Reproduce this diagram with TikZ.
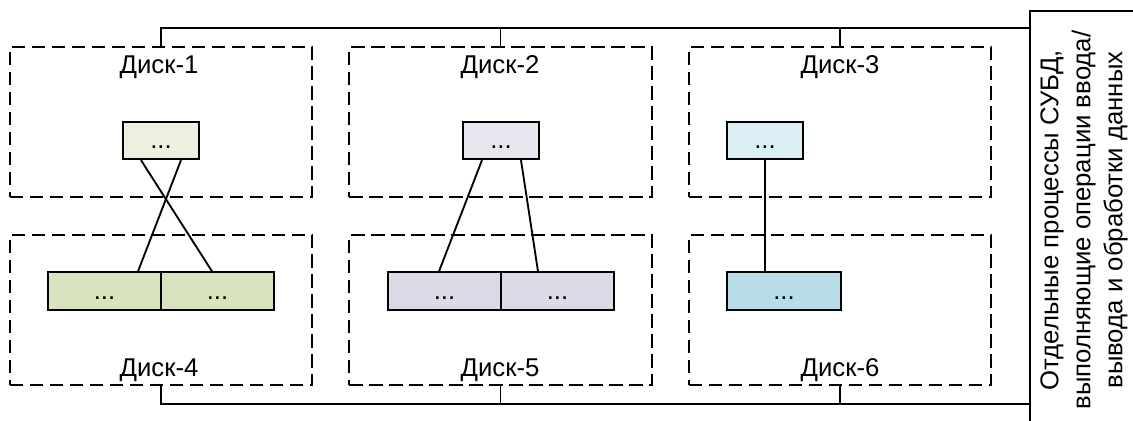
\documentclass[tikz,border=0pt]{standalone}
\usepackage{fontspec}
\setmainfont{Liberation Sans}
\usetikzlibrary{calc}
\definecolor{gA}{HTML}{EBF1DE}
\definecolor{gB}{HTML}{D7E4BD}
\definecolor{pA}{HTML}{E8E6EF}
\definecolor{pB}{HTML}{DDD9E7}
\definecolor{aA}{HTML}{DBEEF3}
\definecolor{aB}{HTML}{B7DEE8}
\begin{document}
\begin{tikzpicture}[x=0.75pt,y=-0.75pt,
  every node/.style={font=\fontsize{19.3pt}{24pt}\selectfont, inner sep=0pt},
  disk/.style={draw, line width=1.45pt, dash pattern=on 10pt off 5pt, minimum width=227pt, minimum height=112.5pt},
  blk/.style={draw, line width=1.5pt, minimum height=28pt, text height=12pt, text depth=0pt},
  conn/.style={line width=1.4pt},
  lbl/.style={anchor=base}]
\useasboundingbox (0,0) rectangle (1133,421);
\clip (0,0) rectangle (1133,421);
% disks
\node[disk] (d1) at (161,122) {};
\node[disk] (d2) at (500.5,122) {};
\node[disk] (d3) at (840,122) {};
\node[disk] (d4) at (161,310) {};
\node[disk] (d5) at (500.5,310) {};
\node[disk] (d6) at (840,310) {};
% labels
\node[lbl] (l1) at (159,73) {Диск-1};
\node[lbl] (l2) at (500,73) {Диск-2};
\node[lbl] (l3) at (840,73) {Диск-3};
\node[lbl] (l4) at (159,376) {Диск-4};
\node[lbl] (l5) at (500,376) {Диск-5};
\node[lbl] (l6) at (840,376) {Диск-6};
% blocks
\node[blk, fill=gA, minimum width=57pt] (b1) at (161,140.5) {...};
\node[blk, fill=pA, minimum width=57pt] (b2) at (501,140.5) {...};
\node[blk, fill=aA, minimum width=57pt] (b3) at (765,140.5) {...};
\node[blk, fill=gB, minimum width=85pt] (b4a) at (104.5,291) {...};
\node[blk, fill=gB, minimum width=85pt] (b4b) at (217.5,291) {...};
\node[blk, fill=pB, minimum width=85pt] (b5a) at (444.5,291) {...};
\node[blk, fill=pB, minimum width=85pt] (b5b) at (557.5,291) {...};
\node[blk, fill=aB, minimum width=85.5pt] (b6) at (784,291) {...};
% connectors
\draw[conn] ($(b1.south)+(-20,0)$) -- ($(b4b.north)+(-5.5,0)$);
\draw[conn] ($(b1.south)+(20,0)$) -- ($(b4a.north)+(33.5,0)$);
\draw[conn] ($(b2.south)+(-19,0)$) -- ($(b5a.north)+(-5.5,0)$);
\draw[conn] ($(b2.south)+(20,0)$) -- ($(b5b.north)+(-19.5,0)$);
\draw[conn] (b3.south) -- (b3.south |- b6.north);
% right box
\node[draw, line width=1.5pt, minimum width=90pt, minimum height=330pt, anchor=north west] (rb) at (1029,10) {};
\node[rotate=90, align=center] (rt) at (1084,220) {Отдельные процессы СУБД,\\выполняющие операции ввода/\\вывода и обработки данных};
% buses
\coordinate (tb1) at (161,28);
\coordinate (bb1) at (161,404);
\draw[conn] (d1.north) -- (tb1) -- (tb1 -| rb.west);
\draw[conn] (d2.north) -- (d2.north |- tb1);
\draw[conn] (d3.north) -- (d3.north |- tb1);
\draw[conn] (d4.south) -- (bb1) -- (bb1 -| rb.west);
\draw[conn] (d5.south) -- (d5.south |- bb1);
\draw[conn] (d6.south) -- (d6.south |- bb1);
\end{tikzpicture}
\end{document}
